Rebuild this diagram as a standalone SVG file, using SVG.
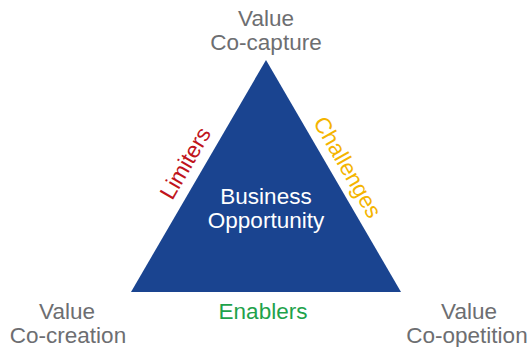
<svg xmlns="http://www.w3.org/2000/svg" width="530" height="347" viewBox="0 0 530 347">
  <style>
    text { font-family: "Liberation Sans", Arial, sans-serif; font-size: 22.5px; text-anchor: middle; }
    .corner { fill: #6d6e71; }
    .inner { fill: #ffffff; }
    .limit { fill: #c0141c; }
    .chall { fill: #f4b400; }
    .enab { fill: #1ea24b; }
  </style>
  <rect width="530" height="347" fill="#ffffff"/>
  <g id="triangle">
    <polygon points="266,60 131,292 401,292" fill="#1a4490"/>
    <text class="inner" x="266" y="204">Business</text>
    <text class="inner" x="266" y="228">Opportunity</text>
  </g>
  <g id="edges">
    <text class="limit" transform="translate(192,167) rotate(-60)">Limiters</text>
    <text class="chall" transform="translate(341,171) rotate(60)">Challenges</text>
    <text class="enab" x="263" y="319">Enablers</text>
  </g>
  <g id="capture">
    <text class="corner" x="266" y="26">Value</text>
    <text class="corner" x="266" y="50">Co-capture</text>
  </g>
  <g id="creation">
    <text class="corner" x="67" y="319">Value</text>
    <text class="corner" x="68" y="343">Co-creation</text>
  </g>
  <g id="coopetition">
    <text class="corner" x="469" y="319">Value</text>
    <text class="corner" x="467" y="343">Co-opetition</text>
  </g>
</svg>
